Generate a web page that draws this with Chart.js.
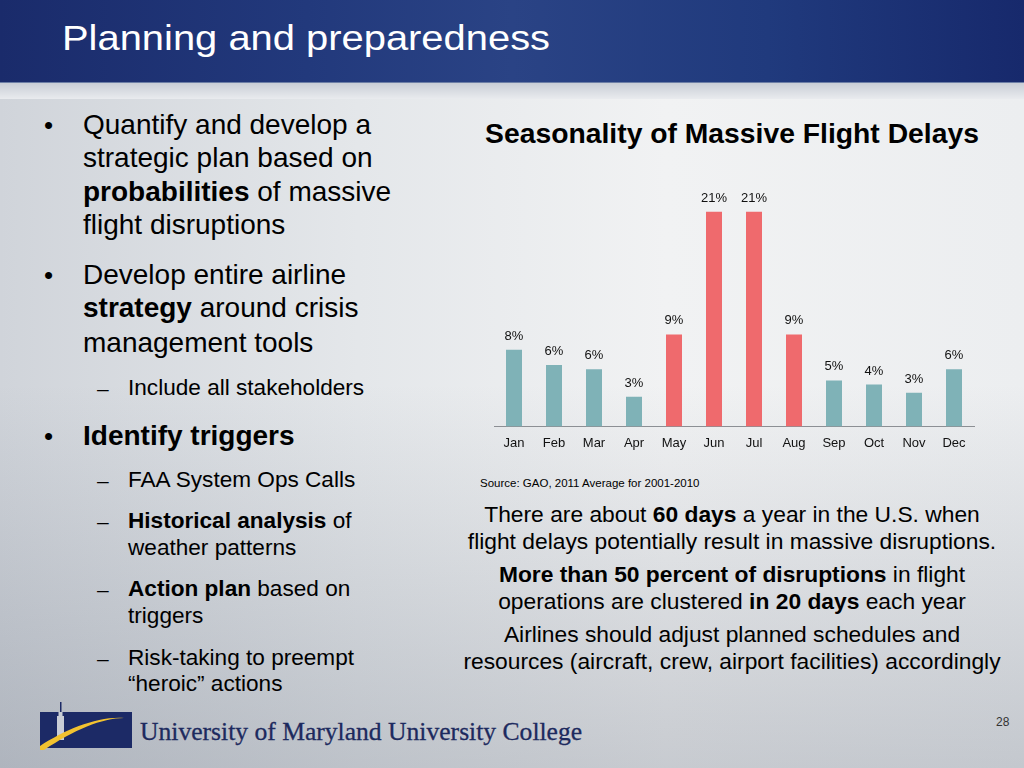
<!DOCTYPE html>
<html>
<head>
<meta charset="utf-8">
<script src="https://cdn.jsdelivr.net/npm/chart.js@4.4.0/dist/chart.umd.min.js"></script>
<style>
  html, body { margin:0; padding:0; }
  body { width:1024px; height:768px; position:relative; overflow:hidden;
    font-family: "Liberation Sans", Arial, sans-serif; color:#000;
    background: linear-gradient(180deg, rgba(0,0,0,0) 0%, rgba(0,0,0,0) 50%, rgba(80,90,108,0.26) 100%),
                linear-gradient(90deg, #d0d4da 0%, #e4e7ea 35%, #f1f2f3 65%, #eceef0 100%); }
  #header { position:absolute; left:0; top:0; width:1024px; height:82px;
    background: linear-gradient(90deg, #1a2b6b 0%, #22397c 30%, #2a4385 50%, #203a7d 75%, #17296c 100%);
    border-bottom:1px solid #6d7fa6; }
  #strip { position:absolute; left:0; top:83px; width:1024px; height:16px;
    background: linear-gradient(180deg, #c9ced6 0%, #e9ebee 100%); }
  #title { position:absolute; left:62px; top:18px; font-size:35px; color:#fff; white-space:nowrap;
    transform-origin:0 0; transform:scaleX(1.14); }
  .t { position:absolute; white-space:nowrap; }
  .b1 { font-size:28px; left:83px; }
  .bul { font-size:26px; left:44px; }
  .s1 { font-size:22.6px; left:128px; }
  .dash { font-size:21px; left:97px; }
  .c { font-size:22.8px; left:732px; transform:translateX(-50%); }
  #charttitle { position:absolute; left:732px; top:117px; transform:translateX(-50%); font-size:28.3px; font-weight:bold; white-space:nowrap; }
  #src { position:absolute; left:480px; top:477px; font-size:11.5px; }
  #chartwrap { position:absolute; left:478px; top:170px; width:510px; height:290px; }
  #logo { position:absolute; left:40px; top:700px; width:92px; height:50px; }
  #uni { position:absolute; left:140px; top:717px; font-family:"Liberation Serif","Times New Roman",serif; font-size:25.6px; color:#1d2a5e; white-space:nowrap; -webkit-text-stroke:0.3px #1d2a5e; }
  #pg { position:absolute; left:996px; top:715px; font-size:12px; color:#333; }
</style>
</head>
<body>
<div id="header"></div>
<div id="strip"></div>
<div id="title">Planning and preparedness</div>

<div class="t bul" style="top:110px">•</div>
<div class="t b1" style="top:109px">Quantify and develop a</div>
<div class="t b1" style="top:142px">strategic plan based on</div>
<div class="t b1" style="top:176px"><b>probabilities</b> of massive</div>
<div class="t b1" style="top:209px">flight disruptions</div>
<div class="t bul" style="top:260px">•</div>
<div class="t b1" style="top:259px">Develop entire airline</div>
<div class="t b1" style="top:292px"><b>strategy</b> around crisis</div>
<div class="t b1" style="top:327px">management tools</div>
<div class="t dash" style="top:377px">–</div>
<div class="t s1" style="top:375px">Include all stakeholders</div>
<div class="t bul" style="top:421px">•</div>
<div class="t b1" style="top:420px"><b>Identify triggers</b></div>
<div class="t dash" style="top:469px">–</div>
<div class="t s1" style="top:467px">FAA System Ops Calls</div>
<div class="t dash" style="top:510px">–</div>
<div class="t s1" style="top:508px"><b>Historical analysis</b> of</div>
<div class="t s1" style="top:535px">weather patterns</div>
<div class="t dash" style="top:578px">–</div>
<div class="t s1" style="top:576px"><b>Action plan</b> based on</div>
<div class="t s1" style="top:603px">triggers</div>
<div class="t dash" style="top:647px">–</div>
<div class="t s1" style="top:645px">Risk-taking to preempt</div>
<div class="t s1" style="top:671px">“heroic” actions</div>

<div id="charttitle">Seasonality of Massive Flight Delays</div>
<div id="chartwrap"><canvas id="c" width="510" height="290"></canvas></div>
<div id="src">Source: GAO, 2011 Average for 2001-2010</div>

<div class="t c" style="top:501px">There are about <b>60 days</b> a year in the U.S. when</div>
<div class="t c" style="top:528px">flight delays potentially result in massive disruptions.</div>
<div class="t c" style="top:561px"><b>More than 50 percent of disruptions</b> in flight</div>
<div class="t c" style="top:588px">operations are clustered <b>in 20 days</b> each year</div>
<div class="t c" style="top:621px">Airlines should adjust planned schedules and</div>
<div class="t c" style="top:648px">resources (aircraft, crew, airport facilities) accordingly</div>

<div id="logo">
  <svg width="92" height="50" viewBox="0 0 92 50">
    <rect x="0" y="12" width="92" height="36" fill="#1c2a66"/>
    <rect x="20" y="2" width="1.5" height="12" fill="#1c2a66"/>
    <rect x="17" y="16" width="7" height="24" fill="#c9cdd6"/>
    <rect x="18.5" y="12" width="4" height="5" fill="#c9cdd6"/>
    <path d="M-6 50 C 20 32, 55 16, 84 18 C 62 18, 34 30, 4 50 Z" fill="#f2c230"/>
  </svg>
</div>
<div id="uni">University of Maryland University College</div>
<div id="pg">28</div>

<script>
const months = ['Jan','Feb','Mar','Apr','May','Jun','Jul','Aug','Sep','Oct','Nov','Dec'];
const delayShare = [7.5, 6.0, 5.6, 2.9, 9.0, 21.0, 21.0, 9.0, 4.5, 4.1, 3.3, 5.6];
const peakMonths = ['May','Jun','Jul','Aug'];

const TEAL = '#7fb2b7';
const RED = '#ef6a6d';

const labelPlugin = {
  id: 'barLabels',
  afterDatasetsDraw(chart) {
    const ctx = chart.ctx;
    const meta = chart.getDatasetMeta(0);
    ctx.save();
    ctx.font = '13px "Liberation Sans", Arial, sans-serif';
    ctx.fillStyle = '#111';
    ctx.textAlign = 'center';
    ctx.textBaseline = 'bottom';
    meta.data.forEach((el, i) => {
      const v = chart.data.datasets[0].data[i];
      ctx.fillText(Math.round(v) + '%', el.x, el.y - 7);
    });
    ctx.restore();
  }
};

new Chart(document.getElementById('c'), {
  type: 'bar',
  data: {
    labels: months,
    datasets: [{
      data: delayShare,
      backgroundColor: (c) => peakMonths.includes(months[c.dataIndex]) ? RED : TEAL,
      barPercentage: 0.8,
      categoryPercentage: 0.5
    }]
  },
  options: {
    responsive: false,
    animation: false,
    devicePixelRatio: 1,
    layout: { padding: { left: 16, right: 14, top: 11, bottom: 0 } },
    plugins: { legend: { display: false }, tooltip: { enabled: false }, title: { display: false } },
    scales: {
      x: {
        grid: { display: false, drawTicks: false },
        border: { display: true, color: '#8c8f94', width: 1 },
        ticks: { color: '#111', padding: 9, font: { size: 13, family: '"Liberation Sans", Arial, sans-serif' } }
      },
      y: { display: false, min: 0, max: 24 }
    }
  },
  plugins: [labelPlugin]
});
</script>
</body>
</html>
